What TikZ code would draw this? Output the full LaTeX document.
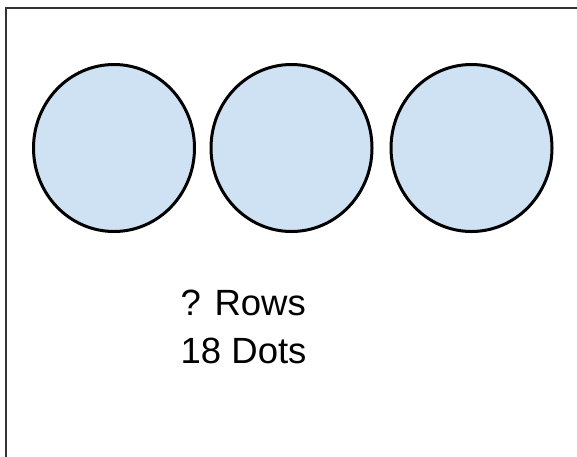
\documentclass[tikz,border=0pt]{standalone}
\usepackage{fontspec}
\setmainfont{Liberation Sans}
\usetikzlibrary{shapes.geometric}
\definecolor{dotfill}{HTML}{CFE2F3}
\definecolor{frame}{HTML}{333333}
\tikzset{
  dot/.style={ellipse, draw=black, line width=3pt, fill=dotfill, minimum width=161pt, minimum height=167pt, inner sep=0pt},
  label/.style={anchor=base west, inner sep=0pt, font=\fontsize{36.5pt}{44pt}\selectfont},
}
\begin{document}
\begin{tikzpicture}[x=1pt,y=-1pt]
\useasboundingbox (0,0) rectangle (577,456);
\fill[white] (0,0) rectangle (577,456);
\coordinate (fb) at (6,457);
\coordinate (fc) at (6,8);
\coordinate (fr) at (578,8);
\draw[frame, line width=2pt] (fb) -- (fc) -- (fr);
\node[dot] (d1) at (114,148) {};
\node[dot] (d2) at (291.5,148) {};
\node[dot] (d3) at (471.5,148) {};
\node[label] (rows) at (180.5,315) {? Rows};
\node[label] (dots) at (180.5,363) {18 Dots};
\end{tikzpicture}
\end{document}
